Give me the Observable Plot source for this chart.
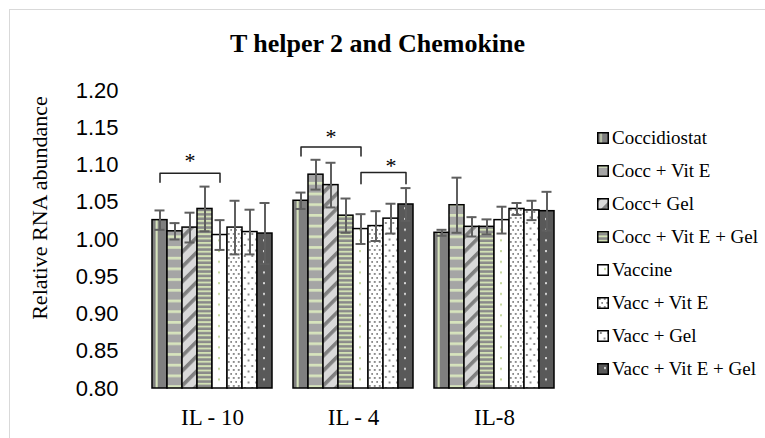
<!DOCTYPE html>
<html>
<head>
<meta charset="utf-8">
<script src="https://cdn.jsdelivr.net/npm/d3@7"></script>
<script src="https://cdn.jsdelivr.net/npm/@observablehq/plot@0.6"></script>
<style>
  html, body { margin: 0; padding: 0; background: #fff; }
  #wrap { position: relative; width: 765px; height: 438px; overflow: hidden; background: #fff; }
  #frame { position: absolute; left: 9px; top: 9px; width: 900px; height: 600px;
           border-top: 1px solid #d9d9d9; border-left: 1px solid #d9d9d9; }
  #chart { position: absolute; left: 0; top: 0; }
  #title { position: absolute; left: 0; top: 31px; width: 755px; text-align: center;
           font: bold 26px "Liberation Serif", "Times New Roman", serif; line-height: 26px; color: #000; }
  #ylabel { position: absolute; left: -110px; top: 195px; width: 300px; height: 26px; line-height: 26px;
            text-align: center; transform: rotate(-90deg);
            font: 22px "Liberation Serif", "Times New Roman", serif; color: #000; }
  #legend { position: absolute; left: 597px; top: 122px; font-family: "Liberation Serif", "Times New Roman", serif;
            font-size: 19px; color: #000; }
  .item { height: 32.9px; display: flex; align-items: center; white-space: nowrap; }
  .item svg { margin-right: 3px; flex: none; }
</style>
</head>
<body>
<div id="wrap">
  <div id="frame"></div>
  <div id="chart"></div>
  <div id="title">T helper 2 and Chemokine</div>
  <div id="ylabel">Relative RNA abundance</div>
  <div id="legend"></div>
</div>
<script>
// ---- data ----
const groups = ["IL - 10", "IL - 4", "IL-8"];
const series = ["Coccidiostat", "Cocc + Vit E", "Cocc+ Gel", "Cocc + Vit E + Gel",
                "Vaccine", "Vacc + Vit E", "Vacc + Gel", "Vacc + Vit E + Gel"];
const il10 = [1.026, 1.011, 1.016, 1.041, 1.006, 1.016, 1.010, 1.008];
const il10Err = [0.013, 0.011, 0.020, 0.030, 0.020, 0.036, 0.030, 0.041];
const il4 = [1.052, 1.087, 1.073, 1.032, 1.014, 1.018, 1.028, 1.047];
const il4Err = [0.011, 0.020, 0.030, 0.023, 0.020, 0.020, 0.020, 0.022];
const il8 = [1.009, 1.046, 1.017, 1.017, 1.026, 1.041, 1.039, 1.038];
const il8Err = [0.004, 0.037, 0.013, 0.010, 0.018, 0.008, 0.013, 0.026];
const yTicks = [0.80, 0.85, 0.90, 0.95, 1.00, 1.05, 1.10, 1.15, 1.20];

// significance brackets
const bracketGroup = ["IL - 10", "IL - 4", "IL - 4"];
const bracketFrom = ["Coccidiostat", "Coccidiostat", "Vaccine"];
const bracketTo = ["Vaccine", "Vaccine", "Vacc + Vit E + Gel"];
const bracketTop = [1.089, 1.124, 1.090];
const bracketFoot = [1.077, 1.112, 1.075];
const starSeries = ["Cocc+ Gel", "Cocc+ Gel", "Vacc + Gel"];
const starY = [1.105, 1.137, 1.099];
const starLabel = ["*", "*", "*"];

// ---- tables built from arrays ----
const valuesByGroup = [il10, il4, il8];
const errByGroup = [il10Err, il4Err, il8Err];
const rows = [];
groups.forEach((g, gi) => series.forEach((s, si) => rows.push({
  group: g, series: s, idx: si, value: valuesByGroup[gi][si], err: errByGroup[gi][si]
})));

const brackets = [];
bracketGroup.forEach((g, i) => {
  brackets.push({id: i, group: g, s: bracketFrom[i], y: bracketFoot[i]});
  brackets.push({id: i, group: g, s: bracketFrom[i], y: bracketTop[i]});
  brackets.push({id: i, group: g, s: bracketTo[i], y: bracketTop[i]});
  brackets.push({id: i, group: g, s: bracketTo[i], y: bracketFoot[i]});
});
const stars = bracketGroup.map((g, i) => ({group: g, s: starSeries[i], y: starY[i], t: starLabel[i]}));

const base = yTicks[0];
const fills = series.map((s, i) => `url(#pat${i})`);

const chart = Plot.plot({
  width: 765,
  height: 438,
  marginTop: 90,
  marginBottom: 50,
  marginLeft: 151,
  marginRight: 209,
  style: {background: "transparent"},
  fx: {domain: groups, paddingInner: 0.146, paddingOuter: 0, label: null},
  x: {domain: series, padding: 0, axis: null, round: false},
  y: {domain: [0.8, 1.2]},
  color: {type: "identity"},
  marks: [
    Plot.axisY({ticks: yTicks, tickFormat: d => d.toFixed(2), tickSize: 0, tickPadding: 34,
                fontSize: 22, fontFamily: "Liberation Sans, Arial, sans-serif", label: null}),
    Plot.axisFx({anchor: "bottom", tickSize: 0, tickPadding: 20, fontSize: 23,
                 fontFamily: "Liberation Serif, Times New Roman, serif", label: null}),
    Plot.barY(rows, {fx: "group", x: "series", y1: base, y2: "value",
                     fill: d => fills[d.idx], stroke: "#000", strokeWidth: 1.5}),
    Plot.ruleX(rows, {fx: "group", x: "series", y1: d => d.value - d.err, y2: d => d.value + d.err,
                      stroke: "#5f5f5f", strokeWidth: 2}),
    Plot.tickY(rows, {fx: "group", x: "series", y: d => d.value + d.err, stroke: "#5f5f5f",
                      strokeWidth: 2, insetLeft: 2.5, insetRight: 2.5}),
    Plot.tickY(rows, {fx: "group", x: "series", y: d => d.value - d.err, stroke: "#5f5f5f",
                      strokeWidth: 2, insetLeft: 2.5, insetRight: 2.5}),
    Plot.line(brackets, {fx: "group", x: "s", y: "y", z: "id", stroke: "#222", strokeWidth: 1.5}),
    Plot.text(stars, {fx: "group", x: "s", y: "y", text: "t", fontSize: 22,
                      fontFamily: "Liberation Serif, Times New Roman, serif", fill: "#000"})
  ]
});

document.getElementById("chart").appendChild(chart);

// ---- patterns (sized from the x scale's step) ----
const xs = chart.scale("x");
const w = xs.step || xs.bandwidth;
const x0 = xs.range[0];
const lg = "#d7e4bd";
const pats = [
  `<pattern id="pat0" patternUnits="objectBoundingBox" patternContentUnits="objectBoundingBox" width="1" height="1">
     <rect width="1" height="1" fill="#7f7f7f"/><rect x="0.24" width="0.14" height="1" fill="${lg}"/></pattern>`,
  `<pattern id="pat1" patternUnits="userSpaceOnUse" x="${x0}" width="${w}" height="10.7">
     <rect width="${w}" height="10.7" fill="#a5a5a5"/><rect y="0" width="${w}" height="2.7" fill="${lg}"/></pattern>`,
  `<pattern id="pat2" patternUnits="userSpaceOnUse" width="10.5" height="10.5" patternTransform="rotate(45)">
     <rect width="10.5" height="10.5" fill="#d9d9d9"/><rect width="3.6" height="10.5" fill="#808080"/></pattern>`,
  `<pattern id="pat3" patternUnits="userSpaceOnUse" x="${x0}" width="${w}" height="4.4">
     <rect width="${w}" height="4.4" fill="#8a8a8a"/><rect width="${w}" height="1.9" fill="#d2e1b4"/></pattern>`,
  `<pattern id="pat4" patternUnits="userSpaceOnUse" x="${x0}" width="${w}" height="10.7">
     <rect width="${w}" height="10.7" fill="#fff"/><rect x="${0.4 * w}" y="4" width="2" height="2" fill="#c4d79b"/></pattern>`,
  `<pattern id="pat5" patternUnits="userSpaceOnUse" x="${x0}" width="${w / 3}" height="8">
     <rect width="${w / 3}" height="8" fill="#fff"/><rect x="0.8" y="1" width="1.9" height="1.9" fill="#8c8c8c"/>
     <rect x="${w / 6 + 0.8}" y="5" width="1.9" height="1.9" fill="#8c8c8c"/></pattern>`,
  `<pattern id="pat6" patternUnits="userSpaceOnUse" x="${x0}" width="${w / 2}" height="11">
     <rect width="${w / 2}" height="11" fill="#fff"/><rect x="1.8" y="2" width="2" height="2" fill="#8c8c8c"/>
     <rect x="${w / 4 + 1.8}" y="7.5" width="2" height="2" fill="#8c8c8c"/></pattern>`,
  `<pattern id="pat7" patternUnits="userSpaceOnUse" x="${x0}" width="${w}" height="10.7">
     <rect width="${w}" height="10.7" fill="#595959"/><rect x="${0.4 * w}" y="4" width="2" height="2" fill="#d9d9d9"/></pattern>`
];
const defs = d3.select(chart).insert("defs", ":first-child");
defs.html(pats.join(""));

// ---- legend ----
const legend = d3.select("#legend");
series.forEach((s, i) => {
  const item = legend.append("div").attr("class", "item");
  const sw = item.append("svg").attr("width", 12).attr("height", 12);
  sw.append("rect").attr("x", 0.75).attr("y", 0.75).attr("width", 10.5).attr("height", 10.5)
    .attr("fill", fills[i]).attr("stroke", "#000").attr("stroke-width", 1.5);
  item.append("span").text(s);
});
</script>
</body>
</html>
